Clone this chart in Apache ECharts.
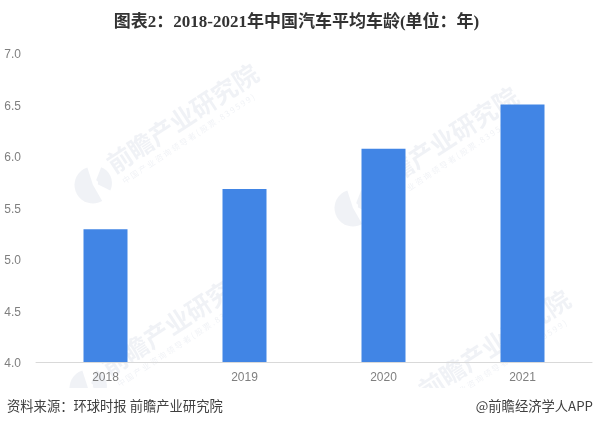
<!DOCTYPE html>
<html lang="zh">
<head>
    <meta charset="UTF-8">
    <title>中国汽车平均车龄</title>
    <script src="https://cdn.jsdelivr.net/npm/echarts@6/dist/echarts.min.js"></script>
    <style>
        html,body{margin:0;padding:0;background:#fff;}
        #chart{width:593px;height:426px;}
    </style>
</head>
<body>
<div id="chart"></div>
<script>
    var years = ['2018','2019','2020','2021'];
    var carAge = [5.29,5.68,6.07,6.5];
    var titleText = '图表2：2018-2021年中国汽车平均车龄(单位：年)';
    var sourceText = '资料来源：环球时报 前瞻产业研究院';
    var brandText = '@前瞻经济学人APP';
    var markColor = 'rgba(60,80,130,0.075)';

    //水印
    function watermark(x,y){
        return {
            type:'group', x:x, y:y, silent:true, z:100,
            children:[
                {type:'sector', shape:{cx:-22,cy:10,r:18.5,r0:0,startAngle:1.05,endAngle:4.4}, style:{fill:markColor}},
                {type:'sector', shape:{cx:-20,cy:8,r:17,r0:3,startAngle:-1.2,endAngle:0.45}, style:{fill:markColor}},
                {type:'group', rotation:0.58, children:[
                    {type:'text', x:0, y:2, style:{text:'前瞻产业研究院', fill:markColor, verticalAlign:'bottom',
                        font:'bold 25px "Noto Sans CJK SC"'}},
                    {type:'text', x:3, y:6, style:{text:'中 国 产 业 咨 询 领 导 者 ( 股 票 . 8 3 9 5 9 9 )', fill:markColor,
                        font:'8px "Noto Sans CJK SC"'}}
                ]}
            ]
        };
    }

    var myChart = echarts.init(document.getElementById('chart'));
    myChart.setOption({
        animation:false,
        grid:{left:36,right:1,top:53,bottom:64},
        xAxis:{
            type:'category',
            data:years,
            axisLine:{lineStyle:{color:'#d9d9d9'}},
            axisTick:{show:false},
            axisLabel:{color:'#7f7f7f',fontSize:12,margin:10,fontFamily:'Liberation Sans'}
        },
        yAxis:{
            type:'value',
            min:4,
            max:7,
            interval:0.5,
            axisLine:{show:false},
            axisTick:{show:false},
            splitLine:{show:false},
            axisLabel:{margin:15,
                formatter:function(v){return '{a|'+v.toFixed(1)+'}';},
                rich:{a:{color:'#7f7f7f',fontSize:12,fontFamily:'Liberation Sans',padding:[4,0,0,0]}}
            }
        },
        series:[{
            type:'bar',
            data:carAge,
            barWidth:44,
            itemStyle:{color:'#4185e5'}
        }],
        graphic:[
            watermark(115,175),
            watermark(375,198),
            watermark(110,378),
            watermark(427,401),
            //底部白条盖住水印
            {type:'rect', z:101, shape:{x:0,y:388,width:593,height:38}, style:{fill:'#fff'}},
            {type:'text', z:102, x:296.5, y:23, style:{text:titleText, fill:'#333', align:'center', verticalAlign:'middle',
                font:'bold 17px "Liberation Serif","Noto Sans CJK SC"'}},
            {type:'text', z:102, x:7, y:406, style:{text:sourceText, fill:'#404040', verticalAlign:'middle',
                font:'13.3px "Noto Sans CJK SC"'}},
            {type:'text', z:102, x:593, y:406, style:{text:brandText, fill:'#404040', align:'right', verticalAlign:'middle',
                font:'13.3px "Noto Sans CJK SC"'}}
        ]
    });
</script>
</body>
</html>
